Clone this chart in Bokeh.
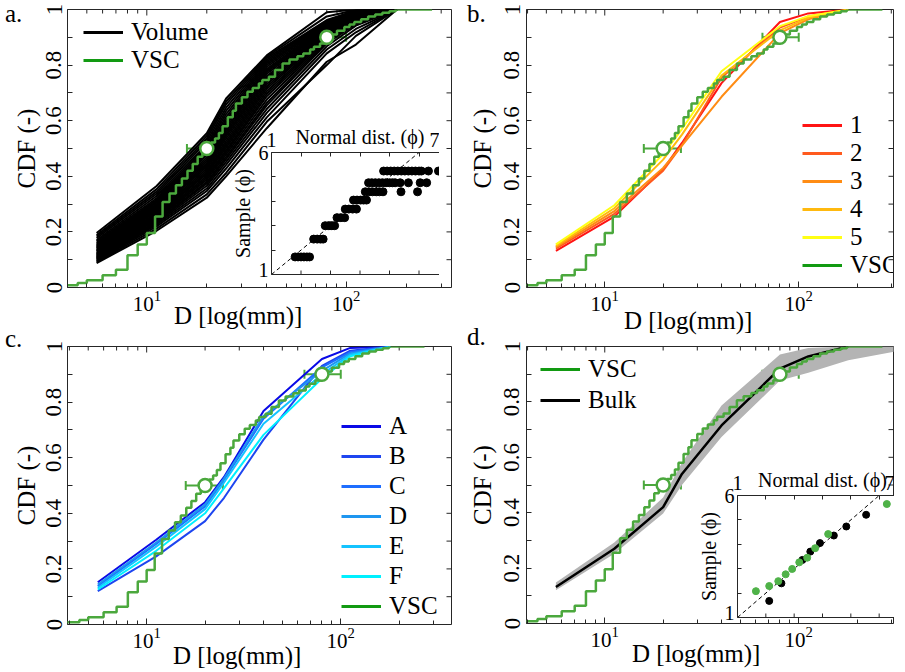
import math
from bokeh.plotting import figure
from bokeh.models import (FixedTicker, Range1d, Legend, LegendItem, Div,
                          Whisker, TeeHead, ColumnDataSource, CustomJSTickFormatter, GridBox)
from bokeh.embed import file_html
from bokeh.resources import INLINE

FONT = "Liberation Serif"
GREEN = "#4ba83d"
GREEN_LEG = "#129a12"
FRAME = "#262626"

# ---------------- data ----------------
sieve = [5.6, 11.2, 20, 25, 40, 80, 112, 180]

volume_cdf = [
    [0.088, 0.204, 0.323, 0.400, 0.573, 0.812, 0.874, 1.0],
    [0.092, 0.212, 0.335, 0.412, 0.596, 0.800, 0.905, 1.0],
    [0.095, 0.220, 0.347, 0.428, 0.612, 0.842, 0.918, 1.0],
    [0.098, 0.226, 0.356, 0.441, 0.628, 0.856, 0.930, 1.0],
    [0.101, 0.231, 0.366, 0.452, 0.642, 0.868, 0.942, 1.0],
    [0.104, 0.236, 0.374, 0.462, 0.655, 0.878, 0.948, 1.0],
    [0.106, 0.240, 0.380, 0.470, 0.664, 0.884, 0.953, 1.0],
    [0.109, 0.245, 0.388, 0.479, 0.676, 0.889, 0.957, 1.0],
    [0.111, 0.249, 0.395, 0.487, 0.688, 0.894, 0.960, 1.0],
    [0.114, 0.253, 0.401, 0.494, 0.697, 0.899, 0.962, 1.0],
    [0.117, 0.257, 0.408, 0.503, 0.706, 0.903, 0.965, 1.0],
    [0.119, 0.261, 0.414, 0.511, 0.715, 0.908, 0.968, 1.0],
    [0.122, 0.265, 0.420, 0.519, 0.723, 0.911, 0.970, 1.0],
    [0.125, 0.269, 0.427, 0.527, 0.731, 0.915, 0.972, 1.0],
    [0.129, 0.274, 0.434, 0.536, 0.739, 0.918, 0.975, 1.0],
    [0.132, 0.279, 0.441, 0.544, 0.747, 0.921, 0.977, 1.0],
    [0.135, 0.283, 0.447, 0.551, 0.754, 0.925, 0.979, 1.0],
    [0.139, 0.287, 0.454, 0.559, 0.761, 0.928, 0.981, 1.0],
    [0.142, 0.291, 0.461, 0.567, 0.769, 0.931, 0.983, 1.0],
    [0.145, 0.295, 0.469, 0.575, 0.775, 0.934, 0.985, 1.0],
    [0.149, 0.300, 0.477, 0.584, 0.781, 0.937, 0.986, 1.0],
    [0.153, 0.305, 0.484, 0.593, 0.787, 0.940, 0.988, 1.0],
    [0.157, 0.310, 0.491, 0.603, 0.794, 0.944, 0.990, 1.0],
    [0.161, 0.315, 0.499, 0.613, 0.801, 0.948, 0.991, 1.0],
    [0.166, 0.321, 0.507, 0.624, 0.807, 0.951, 0.993, 1.0],
    [0.171, 0.329, 0.515, 0.635, 0.813, 0.955, 0.995, 1.0],
    [0.177, 0.337, 0.525, 0.647, 0.819, 0.958, 0.996, 1.0],
    [0.183, 0.345, 0.535, 0.659, 0.825, 0.962, 0.997, 1.0],
    [0.189, 0.354, 0.545, 0.669, 0.830, 0.975, 0.998, 1.0],
    [0.196, 0.365, 0.555, 0.680, 0.835, 0.990, 1.000, 1.0],
]

vsc_d = [3.5, 4.5, 5, 6, 7, 8, 9, 10, 11, 12, 13, 14, 15, 16, 17, 18, 19, 20, 21, 22,
         23, 24, 25.5, 27, 28, 30, 32, 34, 36.5, 38, 41, 44, 48, 52, 57, 61, 66, 69,
         74, 80, 84, 90, 98, 104, 110, 119, 129, 140, 152, 165, 177, 270]
vsc_cdf = [0.008, 0.016, 0.026, 0.044, 0.064, 0.116, 0.155, 0.196, 0.255, 0.308, 0.338,
           0.368, 0.392, 0.420, 0.444, 0.470, 0.494, 0.508, 0.522, 0.536, 0.556, 0.580,
           0.612, 0.636, 0.662, 0.684, 0.704, 0.718, 0.734, 0.746, 0.758, 0.782, 0.806,
           0.820, 0.832, 0.842, 0.856, 0.866, 0.878, 0.892, 0.910, 0.924, 0.937, 0.946,
           0.955, 0.965, 0.975, 0.982, 0.988, 0.994, 1.0, 1.0]

marker_d = [20.0, 80.0]
marker_cdf = [0.5, 0.9]
marker_lo = [15.9, 65.0]
marker_hi = [24.7, 100.0]

layer_labels = ["1", "2", "3", "4", "5"]
layer_colors = ["#ff1414", "#ff5a1e", "#ff8c14", "#ffb90f", "#ffff14"]
layer_cdf = [
    [0.132, 0.255, 0.425, 0.520, 0.735, 0.955, 0.986, 1.0],
    [0.140, 0.265, 0.420, 0.512, 0.755, 0.935, 0.975, 1.0],
    [0.145, 0.275, 0.430, 0.510, 0.686, 0.915, 0.965, 1.0],
    [0.150, 0.285, 0.460, 0.550, 0.762, 0.925, 0.970, 1.0],
    [0.155, 0.296, 0.480, 0.570, 0.778, 0.940, 0.976, 1.0],
]

sub_labels = ["A", "B", "C", "D", "E", "F"]
sub_colors = ["#0a0ae6", "#1e46f0", "#1e6eff", "#1e96f0", "#14c3ff", "#00f0ff"]
sub_cdf = [
    [0.152, 0.305, 0.440, 0.530, 0.768, 0.955, 0.995, 1.0],
    [0.120, 0.245, 0.372, 0.455, 0.665, 0.930, 0.985, 1.0],
    [0.138, 0.290, 0.425, 0.520, 0.740, 0.925, 0.980, 1.0],
    [0.144, 0.295, 0.432, 0.525, 0.750, 0.912, 0.975, 1.0],
    [0.132, 0.280, 0.415, 0.510, 0.722, 0.900, 0.970, 1.0],
    [0.126, 0.265, 0.400, 0.490, 0.682, 0.885, 0.965, 1.0],
]

bulk_cdf = [0.132, 0.270, 0.420, 0.540, 0.715, 0.920, 0.964, 1.0]
band_d = [5.6, 11.2, 20, 25, 40, 80, 112, 180, 360]
band_lo = [0.120, 0.252, 0.397, 0.500, 0.673, 0.877, 0.905, 0.950, 0.990]
band_hi = [0.148, 0.292, 0.455, 0.580, 0.787, 0.971, 0.995, 1.0, 1.0]

qq_a_x = [1.80, 1.90, 2.00, 2.10, 2.20, 2.29,
          2.43, 2.55, 2.66, 2.75,
          2.82, 2.95, 3.05, 3.14,
          3.22, 3.35, 3.48,
          3.50, 3.62, 3.75, 3.88,
          3.78, 3.90, 4.02, 4.12, 4.22,
          4.18, 4.30, 4.42, 4.55, 4.66, 4.78, 5.39, 5.95,
          4.29, 4.40, 4.52, 4.64, 4.76, 4.88, 5.00, 5.10, 5.19, 5.36, 5.64, 6.04, 6.26,
          4.80, 4.92, 5.04, 5.16, 5.28, 5.40, 5.52, 5.64, 5.76, 5.88, 6.00, 6.08, 6.32, 6.66]
qq_a_y = [1.72] * 6 + [2.45] * 4 + [3.00] * 4 + [3.33] * 3 + [3.68] * 4 + [4.05] * 5 + \
         [4.39] * 8 + [4.76] * 13 + [5.24] * 14

qq_d_vsc_x = [1.65, 2.12, 2.44, 2.70, 2.93, 3.18, 3.46, 3.74, 4.20, 6.27]
qq_d_vsc_y = [2.08, 2.29, 2.49, 2.77, 2.99, 3.26, 3.45, 3.84, 4.42, 5.65]
qq_d_bulk_x = [2.12, 2.55, 3.29, 3.57, 3.91, 4.40, 4.84, 5.54]
qq_d_bulk_y = [1.68, 2.40, 3.36, 3.70, 4.05, 4.36, 4.73, 5.21]
ref_line = [1, 7]

x_major = [10, 100]
x_minor = [4, 5, 6, 7, 8, 9, 20, 30, 40, 50, 60, 70, 80, 90, 200, 300]
y_major = [0, 0.2, 0.4, 0.6, 0.8, 1.0]
y_minor = [0.1, 0.3, 0.5, 0.7, 0.9]
qq_x_ticks = [1, 2, 3, 4, 5, 6, 7]
qq_y_ticks = [1, 2, 3, 4, 5, 6]

YFMT = "return tick == 0 ? '0' : (tick == 1 ? '1' : tick.toFixed(1));"
TEXT_STYLE = {"font-family": "'Liberation Serif', serif", "font-size": "25px",
              "line-height": "10px", "color": "black", "white-space": "nowrap"}


def style_axis(ax, tick_in=5, minor_in=4):
    ax.axis_line_color = None
    ax.major_tick_in = tick_in
    ax.major_tick_out = 0
    ax.minor_tick_in = minor_in
    ax.minor_tick_out = 0
    ax.major_tick_line_color = FRAME
    ax.minor_tick_line_color = FRAME
    ax.major_label_text_font = FONT
    ax.major_label_text_color = "black"
    ax.axis_label_text_font = FONT
    ax.axis_label_text_font_style = "normal"
    ax.axis_label_text_color = "black"


def main_fig(xlo, xhi, fw, fh, bl, br, bt, bb, ystand, lstand):
    p = figure(x_axis_type="log", x_range=Range1d(xlo, xhi), y_range=Range1d(0, 1),
               frame_width=fw, frame_height=fh,
               min_border_left=bl, min_border_right=br,
               min_border_top=bt, min_border_bottom=bb, output_backend="svg",
               toolbar_location=None, background_fill_color="white",
               border_fill_color="white", outline_line_color=FRAME, outline_line_width=1,
               align="start")
    p.title = None
    p.grid.visible = False
    xa = p.xaxis[0]
    xa.ticker = FixedTicker(ticks=x_major, minor_ticks=x_minor)
    style_axis(xa, 6, 4)
    xa.major_label_text_font_size = "21px"
    xa.major_label_standoff = 3
    ya = p.yaxis[0]
    ya.ticker = FixedTicker(ticks=y_major, minor_ticks=y_minor)
    ya.formatter = CustomJSTickFormatter(code=YFMT)
    style_axis(ya, 5, 5)
    ya.major_label_orientation = "vertical"
    ya.major_label_text_font_size = "23px"
    ya.major_label_standoff = ystand
    ya.axis_label = "CDF (-)"
    ya.axis_label_text_font_size = "25px"
    ya.axis_label_standoff = lstand
    # inward ticks mirrored on the top and right edges of the box
    n, m = len(x_major), len(x_minor)
    p.segment(x0=x_major, y0=[1.0] * n, x1=x_major, y1=[1 - 6 / fh] * n,
              line_color=FRAME, line_width=1)
    p.segment(x0=x_minor, y0=[1.0] * m, x1=x_minor, y1=[1 - 4 / fh] * m,
              line_color=FRAME, line_width=1)
    yt = y_major + y_minor
    decade = fw / math.log10(xhi / xlo)
    xin = xhi / 10 ** (5 / decade)
    p.segment(x0=[xhi] * len(yt), y0=yt, x1=[xin] * len(yt), y1=yt,
              line_color=FRAME, line_width=1)
    return p


def add_vsc(p):
    p.step(x=vsc_d, y=vsc_cdf, mode="after", line_color=GREEN, line_width=2.5)
    src = ColumnDataSource(dict(x=marker_d, y=marker_cdf, lo=marker_lo, hi=marker_hi))
    w = Whisker(source=src, base="y", lower="lo", upper="hi", dimension="width",
                line_color=GREEN, line_width=2,
                upper_head=TeeHead(size=9, line_color=GREEN, line_width=2),
                lower_head=TeeHead(size=9, line_color=GREEN, line_width=2))
    p.add_layout(w)
    p.scatter("x", "y", source=src, size=13, fill_color="white", line_color=GREEN,
              line_width=2.5)


def add_legend(p, entries, loc, gh, spacing):
    items = []
    for lab, col in entries:
        r = p.line(x=[1.0, 1.0], y=[-5.0, -5.0], line_color=col, line_width=3)
        items.append(LegendItem(label=lab, renderers=[r]))
    leg = Legend(items=items, location=loc, orientation="vertical",
                 border_line_color=None, background_fill_alpha=0, padding=0, margin=0,
                 spacing=spacing, glyph_width=40, glyph_height=gh, label_height=gh,
                 label_standoff=8, label_text_font=FONT, label_text_font_size="25px",
                 label_text_color="black")
    p.add_layout(leg)


def text_div(text, top, left):
    return Div(text=text, margin=(top, -60, -40, left), align="start", styles=TEXT_STYLE)


def inset_fig(fw, fh, margin):
    q = figure(x_range=Range1d(1, 7), y_range=Range1d(1, 6),
               frame_width=fw, frame_height=fh,
               min_border_left=40, min_border_top=26,
               min_border_right=15, min_border_bottom=6, x_axis_location="above",
               output_backend="svg", toolbar_location=None,
               background_fill_color="white", border_fill_color=None,
               outline_line_color=FRAME, outline_line_width=1, align="start",
               margin=margin)
    q.title = None
    q.grid.visible = False
    xa = q.xaxis[0]
    xa.ticker = FixedTicker(ticks=qq_x_ticks)
    xa.formatter = CustomJSTickFormatter(code="return (tick == 1 || tick == 7) ? String(tick) : ' ';")
    style_axis(xa, 4, 0)
    xa.major_label_text_font_size = "20px"
    xa.major_label_standoff = 2
    xa.axis_label = "Normal dist. (ϕ)"
    xa.axis_label_text_font_size = "20px"
    xa.axis_label_standoff = -22
    ya = q.yaxis[0]
    ya.ticker = FixedTicker(ticks=qq_y_ticks)
    ya.formatter = CustomJSTickFormatter(code="return (tick == 1 || tick == 6) ? String(tick) : ' ';")
    style_axis(ya, 4, 0)
    ya.major_label_text_font_size = "20px"
    ya.major_label_standoff = 3
    ya.axis_label = "Sample (ϕ)"
    ya.axis_label_text_font_size = "20px"
    ya.axis_label_standoff = 2
    nx, ny = len(qq_x_ticks), len(qq_y_ticks)
    q.segment(x0=qq_x_ticks, y0=[1.0] * nx, x1=qq_x_ticks, y1=[1 + 4 * 5 / fh] * nx,
              line_color=FRAME, line_width=1)
    q.segment(x0=[7.0] * ny, y0=qq_y_ticks, x1=[7 - 4 * 6 / fw] * ny, y1=qq_y_ticks,
              line_color=FRAME, line_width=1)
    q.line(ref_line, ref_line, line_color="black", line_width=1, line_dash="4 3")
    return q


# ---------------- panel a ----------------
pa = main_fig(4.0, 338.0, 384, 278, 67, 4, 23, 36, 6, 4)
for c in volume_cdf:
    pa.line(sieve, c, line_color="black", line_width=2)
add_vsc(pa)
add_legend(pa, [("Volume", "black"), ("VSC", GREEN_LEG)], (16, 213), 24, -1)

# ---------------- panel b ----------------
pb = main_fig(3.95, 308.0, 367, 278, 71, 4, 23, 36, 7, 6)
for c, col in zip(layer_cdf, layer_colors):
    pb.line(sieve, c, line_color=col, line_width=2)
add_vsc(pb)
add_legend(pb, list(zip(layer_labels, layer_colors)) + [("VSC", GREEN_LEG)], (276, 8), 22, -5)

# ---------------- panel c ----------------
pc = main_fig(3.91, 372.0, 384, 278, 67, 4, 23, 38, 6, 4)
for c, col in zip(sub_cdf, sub_colors):
    pc.line(sieve, c, line_color=col, line_width=2)
add_vsc(pc)
add_legend(pc, list(zip(sub_labels, sub_colors)) + [("VSC", GREEN_LEG)], (274, 4), 24, 2)

# ---------------- panel d ----------------
pd_ = main_fig(3.95, 308.0, 367, 277, 71, 4, 22, 39, 7, 6)
pd_.varea(x=band_d, y1=band_lo, y2=band_hi, fill_color="#b4b4b4")
pd_.line(sieve, bulk_cdf, line_color="black", line_width=2.5)
add_vsc(pd_)
add_legend(pd_, [("VSC", GREEN_LEG), ("Bulk", "black")], (14, 209), 26, 3)

# ---------------- insets ----------------
ia = inset_fig(177, 122, (143, 0, 0, 204))
ia.scatter(qq_a_x, qq_a_y, size=8, color="black")

idd = inset_fig(170, 122, (149, 0, 0, 211))
idd.scatter(qq_d_bulk_x, qq_d_bulk_y, size=7, color="black")
idd.scatter(qq_d_vsc_x, qq_d_vsc_y, size=7, color="#4fb248")

grid = GridBox(children=[
    (pa, 0, 0), (pb, 0, 1), (pc, 1, 0), (pd_, 1, 1),
    (ia, 0, 0), (idd, 1, 1),
    (text_div("a.", 30, 5), 0, 0), (text_div("b.", 30, 12), 0, 1),
    (text_div("c.", 18, 5), 1, 0), (text_div("d.", 16, 12), 1, 1),
    (text_div("D [log(mm)]", 332, 174), 0, 0), (text_div("D [log(mm)]", 337, 169), 0, 1),
    (text_div("D [log(mm)]", 335, 173), 1, 0), (text_div("D [log(mm)]", 333, 177), 1, 1),
], margin=(-21, 0, 0, 0))

open("out.html", "w").write(file_html(grid, INLINE))
